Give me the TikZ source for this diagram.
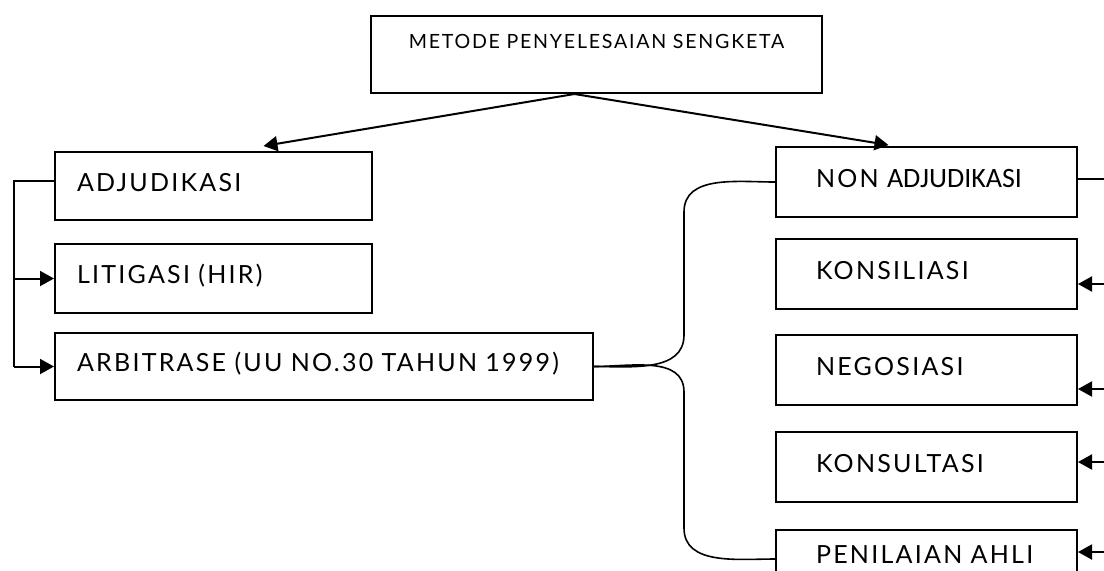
\documentclass[tikz,border=0pt]{standalone}
\usepackage{fontspec}
\setmainfont{Lato}[LetterSpace=9]
\newfontfamily\calibri{Carlito}
\usetikzlibrary{arrows.meta,calc}

\tikzset{
  box/.style={draw, line width=1pt, anchor=north west, inner ysep=0pt,
    text height=8pt, text depth=3pt, align=left,
    font=\fontsize{12.5}{14}\selectfont},
  leftbox/.style={box, inner xsep=11pt, text width=#1},
  rightbox/.style={box, inner xsep=20pt, text width=110.5pt,
    minimum height=35pt},
  conn/.style={line width=1pt},
  arr/.style={conn, -{Triangle[length=7pt,width=7.5pt]}},
  brace/.style={line width=0.8pt}
}

\begin{document}
\begin{tikzpicture}[x=0.5pt,y=-0.5pt]
\clip (0,0) rectangle (1104,570);

% top
\node[box, minimum width=225.5pt, minimum height=38.5pt, text width=205pt,
  align=center, text height=7pt, text depth=13pt,
  font=\fontsize{9.8}{12}\selectfont] (metode) at (370,15) {METODE PENYELESAIAN SENGKETA};

% left column
\node[leftbox=136.5pt, minimum height=34pt] (adjud) at (54,151) {ADJUDIKASI};
\node[leftbox=136.5pt, minimum height=34.5pt] (litig) at (54,243) {LITIGASI (HIR)};
\node[leftbox=247pt, minimum height=33.5pt] (arbit) at (54,332) {ARBITRASE (UU NO.30 TAHUN 1999)};

% right column
\node[rightbox] (nonadj) at (775,146) {NON {\calibri\fontsize{14}{14}\selectfont ADJUDIKASI}};
\node[rightbox] (konsil) at (775,238) {KONSILIASI};
\node[rightbox] (negos) at (775,334) {NEGOSIASI};
\node[rightbox] (konsul) at (775,431) {KONSULTASI};
\node[rightbox, text depth=10pt] (penil) at (775,529) {PENILAIAN AHLI};

% from the top box
\coordinate (fork) at ($(metode.south)+(-22,0)$);
\draw[arr] (fork) -- ($(adjud.north)+(50,-5)$);
\draw[arr] (fork) -- ($(nonadj.north)+(-38,-1)$);

% left rail
\coordinate (rail) at (14,0);
\draw[conn] ($(adjud.west)+(0,-5)$) -| (rail |- arbit.west);
\draw[arr] (rail |- litig.west) -- (litig.west);
\draw[arr] (rail |- arbit.west) -- (arbit.west);

% brace
\draw[brace] (arbit.east) to[out=0,in=-90] (684,335) -- (684,212)
  to[out=90,in=180] (nonadj.west);
\draw[brace] (arbit.east) to[out=0,in=90] (684,392) -- (684,528)
  to[out=-90,in=180] ($(penil.west)+(0,-6)$);

% right side
\coordinate (k0) at (1104,179);
\coordinate (k1) at (1104,284);
\coordinate (k2) at (1104,389);
\coordinate (k3) at (1104,462);
\coordinate (k4) at (1104,552);
\draw[conn] (k0 -| nonadj.east) -- (k0);
\draw[arr] (k1) -- (k1 -| konsil.east);
\draw[arr] (k2) -- (k2 -| negos.east);
\draw[arr] (k3) -- (k3 -| konsul.east);
\draw[arr] (k4) -- (k4 -| penil.east);
\end{tikzpicture}
\end{document}
